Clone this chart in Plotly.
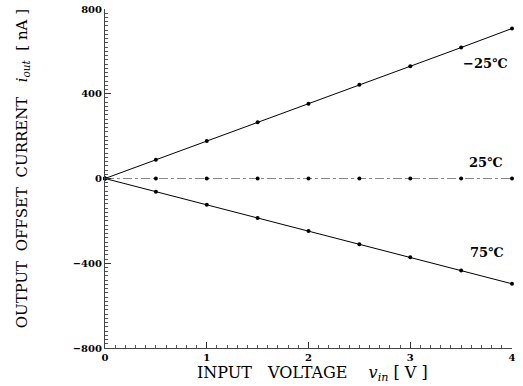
import plotly.graph_objects as go

vin = [0, 0.5, 1.0, 1.5, 2.0, 2.5, 3.0, 3.5, 4.0]
i_m25 = [0, 88, 177, 265, 353, 442, 530, 618, 708]
i_25 = [0, 0, 0, 0, 0, 0, 0, 0, 0]
i_75 = [0, -62, -124, -186, -248, -310, -372, -434, -497]

series_labels = ["\u221225\u2103", "25\u2103", "75\u2103"]
label_pos_x = [3.74, 3.74, 3.75]
label_pos_y = [545, 75, -350]

x_ticks = [0, 1, 2, 3, 4]
y_ticks = [-800, -400, 0, 400, 800]

x_title = "INPUT\u2003VOLTAGE\u2003 <i>v</i><sub><i>in</i></sub> [ V ]"
y_title = "OUTPUT  OFFSET  CURRENT   <i>i</i><sub><i>out</i></sub>  [ nA ]"

fig = go.Figure()
fig.add_trace(go.Scatter(x=vin, y=i_m25, mode="lines+markers",
                         line=dict(color="black", width=1),
                         marker=dict(color="black", size=4), showlegend=False,
                         cliponaxis=False))
fig.add_trace(go.Scatter(x=vin, y=i_25, mode="lines+markers",
                         line=dict(color="#888888", width=1.2, dash="dashdot"),
                         marker=dict(color="black", size=4), showlegend=False,
                         cliponaxis=False))
fig.add_trace(go.Scatter(x=vin, y=i_75, mode="lines+markers",
                         line=dict(color="black", width=1),
                         marker=dict(color="black", size=4), showlegend=False,
                         cliponaxis=False))

for t, xx, yy in zip(series_labels, label_pos_x, label_pos_y):
    fig.add_annotation(x=xx, y=yy, text=t, showarrow=False,
                       font=dict(family="DejaVu Serif", size=13, color="black", weight="bold"))

fig.add_annotation(xref="paper", yref="paper", x=0.509, y=-0.074, text=x_title,
                   showarrow=False, xanchor="center", yanchor="middle",
                   font=dict(family="DejaVu Serif", size=16, color="black"))
fig.add_annotation(xref="paper", yref="paper", x=-0.204, y=0.53, text=y_title,
                   showarrow=False, xanchor="center", yanchor="middle", textangle=-90,
                   font=dict(family="DejaVu Serif", size=15, color="black"))

fig.update_layout(
    width=523, height=386,
    margin=dict(l=105, r=11, t=9, b=38, autoexpand=False),
    plot_bgcolor="white", paper_bgcolor="white",
    font=dict(family="DejaVu Serif", color="black"),
)
fig.update_xaxes(
    range=[0, 4], tickvals=x_ticks, ticktext=[str(v) for v in x_ticks],
    showgrid=False, zeroline=False, showline=True, linecolor="#444", linewidth=1,
    ticks="inside", ticklen=6, tickcolor="#333", automargin=False,
    minor=dict(dtick=0.1, ticks="inside", ticklen=3, tickcolor="#555"),
    tickfont=dict(family="DejaVu Serif", size=10, weight="bold"),
)
fig.update_yaxes(
    range=[-800, 800], tickvals=y_ticks,
    ticktext=["\u2212800", "\u2212400", "0", "400", "800"],
    showgrid=False, zeroline=False, showline=True, linecolor="#444", linewidth=1,
    ticks="inside", ticklen=6, tickcolor="#333", automargin=False,
    minor=dict(dtick=20, ticks="inside", ticklen=3, tickcolor="#555"),
    tickfont=dict(family="DejaVu Serif", size=10, weight="bold"),
)

fig.write_html("out.html", config={"displayModeBar": False},
               post_script="document.body.style.margin='0';document.body.style.overflow='hidden';")
